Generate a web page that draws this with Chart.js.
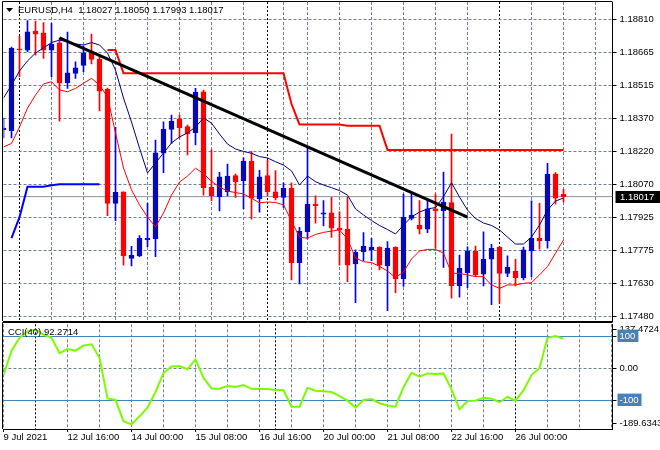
<!DOCTYPE html>
<html><head><meta charset="utf-8">
<script src="https://cdn.jsdelivr.net/npm/chart.js@4.4.1/dist/chart.umd.min.js"></script>
<style>
html,body{margin:0;padding:0;background:#fff;}
#wrap{position:relative;width:660px;height:450px;overflow:hidden;background:#fff;}
canvas{position:absolute;left:0;}
#c1{top:0;width:660px;height:322px;}
#c2{top:322px;width:660px;height:128px;}
</style></head><body>
<div id="wrap"><canvas id="c1" width="660" height="322"></canvas><canvas id="c2" width="660" height="128"></canvas></div>
<script>
// ---------------- DATA ----------------
const symbolLabel = 'EURUSD,H4';
const titleValues = ['1.18027', '1.18050', '1.17993', '1.18017'];
const cciLabel = 'CCI(40) 92.2714';

const open = [1.18315,1.18312,1.18678,1.18672,1.18757,1.18750,1.18672,1.18705,1.18526,1.18568,
1.18604,1.18660,1.18631,1.18497,1.17987,1.18038,1.17741,1.17752,1.17825,1.17828,
1.18211,1.18318,1.18365,1.18330,1.18303,1.18486,1.18060,1.18017,1.18039,1.18111,
1.18088,1.18176,1.18008,1.18111,1.18038,1.18014,1.18054,1.17722,1.17860,1.17984,
1.17938,1.17945,1.17876,1.17872,1.17716,1.17771,1.17779,1.17791,1.17707,1.17791,
1.17649,1.17920,1.17890,1.17872,1.17962,1.17954,1.17990,1.17619,1.17677,1.17774,
1.17670,1.17737,1.17791,1.17674,1.17683,1.17655,1.17775,1.17831,1.17820,1.18118,
1.18027];
const high = [1.18368,1.18686,1.18735,1.18804,1.18802,1.18795,1.18792,1.18725,1.18753,1.18620,
1.18690,1.18744,1.18646,1.18503,1.18327,1.18039,1.17795,1.17843,1.17987,1.18270,
1.18352,1.18382,1.18382,1.18337,1.18501,1.18494,1.18226,1.18126,1.18163,1.18118,
1.18191,1.18218,1.18135,1.18181,1.18133,1.18079,1.18079,1.17880,1.18240,1.18021,
1.17999,1.18014,1.17950,1.18014,1.17779,1.17856,1.17831,1.17793,1.17816,1.17793,
1.18028,1.18035,1.17999,1.17999,1.18029,1.18127,1.18297,1.17756,1.17793,1.17796,
1.17860,1.17804,1.17792,1.17752,1.17737,1.17791,1.17998,1.17987,1.18166,1.18124,
1.18050];
const low = [1.18279,1.18279,1.18553,1.18665,1.18650,1.18635,1.18553,1.18355,1.18501,1.18546,
1.18576,1.18610,1.18400,1.17932,1.17910,1.17711,1.17707,1.17749,1.17793,1.17749,
1.18124,1.18255,1.18278,1.18203,1.18248,1.18024,1.17999,1.17953,1.18020,1.18014,
1.17963,1.17916,1.17947,1.18020,1.18002,1.17969,1.17644,1.17627,1.17828,1.17898,
1.17886,1.17835,1.17711,1.17637,1.17543,1.17731,1.17731,1.17689,1.17507,1.17588,
1.17615,1.17913,1.17850,1.17856,1.17787,1.17700,1.17563,1.17567,1.17610,1.17659,
1.17618,1.17534,1.17540,1.17659,1.17618,1.17644,1.17659,1.17782,1.17786,1.17983,
1.17993];
const close = [1.18324,1.18680,1.18673,1.18754,1.18744,1.18672,1.18698,1.18524,1.18571,1.18593,
1.18660,1.18631,1.18489,1.17987,1.18036,1.17752,1.17755,1.17831,1.17832,1.18213,
1.18319,1.18355,1.18325,1.18297,1.18485,1.18057,1.18021,1.18105,1.18109,1.18084,
1.18176,1.18010,1.18105,1.18039,1.18012,1.18054,1.17722,1.17863,1.17984,1.17977,
1.17945,1.17876,1.17868,1.17711,1.17768,1.17796,1.17791,1.17711,1.17787,1.17649,
1.17925,1.17935,1.17872,1.17962,1.17953,1.17993,1.17619,1.17697,1.17773,1.17667,
1.17738,1.17786,1.17674,1.17701,1.17655,1.17779,1.17831,1.17820,1.18118,1.18010,
1.18017];
const navyLine = [1.18458,1.18516,1.18579,1.18624,1.18659,1.18682,1.18706,1.18717,1.18710,1.18700,
1.18695,1.18706,1.18695,1.18659,1.18583,1.18458,1.18351,1.18234,1.18123,1.18167,
1.18212,1.18257,1.18284,1.18302,1.18328,1.18369,1.18346,1.18297,1.18252,1.18230,
1.18219,1.18211,1.18196,1.18190,1.18173,1.18158,1.18132,1.18069,1.18109,1.18084,
1.18069,1.18057,1.18044,1.18024,1.17962,1.17935,1.17910,1.17888,1.17870,1.17850,
1.17890,1.17926,1.17948,1.17962,1.17968,1.18017,1.18079,1.18015,1.17957,1.17919,
1.17899,1.17888,1.17868,1.17836,1.17805,1.17805,1.17836,1.17890,1.17957,1.17997,
1.18011];
const redLine = [1.18239,1.18255,1.18328,1.18413,1.18471,1.18521,1.18531,1.18494,1.18486,1.18501,
1.18524,1.18546,1.18516,1.18463,1.18302,1.18145,1.18047,1.17980,1.17926,1.17881,
1.17944,1.18024,1.18082,1.18109,1.18144,1.18120,1.18085,1.18060,1.18042,1.18035,
1.18029,1.18010,1.17989,1.17993,1.17991,1.17980,1.17908,1.17836,1.17831,1.17848,
1.17857,1.17863,1.17868,1.17828,1.17743,1.17726,1.17722,1.17705,1.17684,1.17655,
1.17680,1.17738,1.17774,1.17781,1.17781,1.17764,1.17674,1.17674,1.17667,1.17659,
1.17659,1.17622,1.17607,1.17622,1.17622,1.17629,1.17632,1.17667,1.17704,1.17764,
1.17823];
const resistance = [null,null,null,null,null,null,null,null,null,null,
null,null,null,1.18673,1.18673,1.18569,1.18569,1.18569,1.18569,1.18569,
1.18569,1.18569,1.18569,1.18569,1.18569,1.18569,1.18569,1.18569,1.18569,1.18569,
1.18569,1.18569,1.18569,1.18569,1.18569,1.18569,1.18431,1.18340,1.18340,1.18340,
1.18340,1.18340,1.18340,1.18334,1.18334,1.18334,1.18334,1.18334,1.18226,1.18226,
1.18226,1.18226,1.18226,1.18226,1.18226,1.18226,1.18226,1.18226,1.18226,1.18226,
1.18226,1.18226,1.18226,1.18226,1.18226,1.18226,1.18226,1.18226,1.18226,1.18226,
1.18226];
const support = [null,1.17831,1.17925,1.18061,1.18061,1.18061,1.18068,1.18072,1.18072,1.18072,
1.18072,1.18072,1.18072];
const trendBars = [7, 58];
const trendPrices = [1.18727, 1.17925];
const currentPrice = 1.18017;
const currentPriceLabel = '1.18017';

const cci = [-21,55,95,115,120,105,95,47,60,55,
71,75,33,-94,-99,-165,-175,-150,-123,-74,
-15,6,7,-3,28,-30,-63,-64,-55,-58,
-52,-64,-65,-65,-68,-68,-120,-120,-61,-70,
-72,-74,-87,-101,-123,-99,-96,-109,-116,-120,
-59,-14,-26,-16,-18,-16,-66,-128,-103,-101,
-92,-95,-106,-89,-101,-69,-21,1,95,101,
92.27];
const cciLevels = [100, -100];
const cciMax = 137.4724, cciMin = -189.6343;
const cciTickLabels = ['137.4724', '100', '0.00', '-100', '-189.6343'];

const priceTickLabels = ['1.17480','1.17630','1.17775','1.17925','1.18070','1.18220','1.18370','1.18515','1.18665','1.18810'];
const timeLabelBars = [0, 8, 16, 24, 32, 40, 48, 56, 64];
const timeLabels = ['9 Jul 2021','12 Jul 16:00','14 Jul 00:00','15 Jul 08:00','16 Jul 16:00','20 Jul 00:00','21 Jul 08:00','22 Jul 16:00','26 Jul 00:00'];
const weekStartBars = [4, 34, 64];

// ---------------- LAYOUT / STYLE ----------------
const FONT_FAMILY = "'Liberation Sans', Arial, sans-serif";
const FS = 9.5;
const GRID = '#708090';
const AXIS_W = 47.5;
const X_MIN = 0, X_MAX = 76.125;          // visible bar range
const Y_MIN = 1.174608, Y_MAX = 1.188874; // visible price range
const BULL_FILL = '#0a0aa6', BULL_EDGE = '#0000ff', BEAR = '#ff0000';

Chart.defaults.font.family = FONT_FAMILY;
Chart.defaults.font.size = FS;
Chart.defaults.color = '#000';

const gridBars = [];
for (let b = 0; b <= 76; b += 4) gridBars.push(b);
weekStartBars.forEach(b => { if (!gridBars.includes(b)) gridBars.push(b); });
gridBars.sort((a, b) => a - b);

const isWeek = ctx => ctx.tick && weekStartBars.includes(ctx.tick.value);
const series = arr => arr.map((v, i) => ({x: i, y: v}));
const idx = open.map((_, i) => i);
const bull = i => close[i] >= open[i];
const noPad = s => { s.paddingTop = 0; s.paddingBottom = 0; s.paddingLeft = 0; s.paddingRight = 0; };

function xScale(showLabels) {
  return {
    type: 'linear', min: X_MIN, max: X_MAX, offset: false, bounds: 'data',
    afterBuildTicks: s => { s.ticks = gridBars.map(v => ({value: v})); },
    afterFit: s => { s.height = showLabels ? 21 : 0; noPad(s); },
    ticks: showLabels ? {
      display: true, autoSkip: false, maxRotation: 0, minRotation: 0, align: 'start', padding: 0,
      font: {size: FS, family: FONT_FAMILY}, color: '#000',
      callback: v => { const k = timeLabelBars.indexOf(v); return k >= 0 ? timeLabels[k] : ''; }
    } : {display: false},
    grid: {
      color: ctx => isWeek(ctx) ? '#000' : GRID, lineWidth: 1,
      drawTicks: showLabels, tickLength: 3,
      tickColor: ctx => (ctx.tick && timeLabelBars.includes(ctx.tick.value)) ? '#000' : 'rgba(0,0,0,0)'
    },
    border: { display: true, color: '#000', width: 1, dash: ctx => isWeek(ctx) ? [2, 2] : [3, 2] }
  };
}

// ---------------- MAIN PRICE CHART ----------------
const mainDecor = {
  id: 'mainDecor',
  afterDraw(chart) {
    const {ctx, chartArea: a} = chart;
    const y = chart.scales.y;
    ctx.save();
    ctx.strokeStyle = '#000'; ctx.lineWidth = 1;
    ctx.beginPath();
    ctx.moveTo(2.5, 1.5); ctx.lineTo(a.right, 1.5);
    ctx.moveTo(2.5, 1.5); ctx.lineTo(2.5, a.bottom);
    ctx.stroke();
    // title marker
    ctx.fillStyle = '#000';
    ctx.beginPath(); ctx.moveTo(6, 8); ctx.lineTo(13, 8); ctx.lineTo(9.5, 12); ctx.closePath(); ctx.fill();
    ctx.font = FS + 'px ' + FONT_FAMILY;
    ctx.textBaseline = 'middle'; ctx.textAlign = 'left';
    ctx.fillText(symbolLabel + '  ' + titleValues.join(' '), 18, 10.5);
    // current price box
    const py = y.getPixelForValue(currentPrice);
    ctx.fillStyle = '#000';
    ctx.fillRect(a.right + 3, Math.round(py) - 6, 660 - a.right - 3, 12);
    ctx.fillStyle = '#fff';
    ctx.fillText(currentPriceLabel, a.right + 7.5, Math.round(py) + 0.5);
    ctx.restore();
  }
};

new Chart(document.getElementById('c1'), {
  type: 'bar',
  data: {
    datasets: [
      {type: 'line', data: trendBars.map((b, k) => ({x: b, y: trendPrices[k]})), borderColor: '#000', borderWidth: 3, pointRadius: 0, order: 0},
      {type: 'line', data: series(resistance), borderColor: '#ff0000', borderWidth: 2, pointRadius: 0, spanGaps: false, order: 1},
      {type: 'line', data: series(support), borderColor: '#0000ff', borderWidth: 2, pointRadius: 0, spanGaps: false, order: 2},
      {type: 'line', data: series(navyLine), borderColor: '#000080', borderWidth: 1, pointRadius: 0, order: 3},
      {type: 'line', data: series(redLine), borderColor: '#ff0000', borderWidth: 1, pointRadius: 0, order: 4},
      {type: 'bar', data: idx.map(i => ({x: i, y: [open[i], close[i]]})), barThickness: 5, grouped: false, minBarLength: 1,
        borderSkipped: false, borderWidth: 1,
        backgroundColor: c => bull(c.dataIndex) ? BULL_FILL : BEAR,
        borderColor: c => bull(c.dataIndex) ? BULL_EDGE : BEAR, order: 10},
      {type: 'bar', data: idx.map(i => ({x: i, y: [low[i], high[i]]})), barThickness: 1, grouped: false, borderWidth: 0,
        backgroundColor: c => bull(c.dataIndex) ? BULL_EDGE : BEAR, order: 11},
      {type: 'line', data: [{x: X_MIN, y: currentPrice}, {x: X_MAX, y: currentPrice}], borderColor: '#8a949e', borderWidth: 1, pointRadius: 0, order: 12}
    ]
  },
  options: {
    responsive: false, animation: false, devicePixelRatio: 1, events: [],
    layout: {padding: {left: 3.5, top: 2, right: 0, bottom: 1}, autoPadding: false},
    plugins: {legend: {display: false}, tooltip: {enabled: false}, title: {display: false}},
    scales: {
      x: xScale(false),
      y: {
        type: 'linear', position: 'right', min: Y_MIN, max: Y_MAX, bounds: 'data', beginAtZero: false,
        afterFit: s => { s.width = AXIS_W; noPad(s); },
        afterBuildTicks: s => {
          const lo = parseFloat(priceTickLabels[0]), hi = parseFloat(priceTickLabels[priceTickLabels.length - 1]);
          const n = priceTickLabels.length;
          s.ticks = priceTickLabels.map((_, k) => ({value: lo + k * (hi - lo) / (n - 1)}));
        },
        ticks: {autoSkip: false, padding: 3, color: '#000', font: {size: FS, family: FONT_FAMILY}, callback: (v, i) => priceTickLabels[i]},
        grid: {color: GRID, lineWidth: 1, drawTicks: true, tickLength: 4, tickColor: '#000'},
        border: {display: true, color: '#000', width: 1, dash: [3, 2]}
      }
    }
  },
  plugins: [mainDecor]
});

// ---------------- CCI CHART ----------------
const cciDecor = {
  id: 'cciDecor',
  afterDraw(chart) {
    const {ctx, chartArea: a} = chart;
    ctx.save();
    ctx.strokeStyle = '#000'; ctx.lineWidth = 1;
    ctx.beginPath();
    ctx.moveTo(2.5, 0.5); ctx.lineTo(a.right, 0.5);
    ctx.moveTo(2.5, 0.5); ctx.lineTo(2.5, a.bottom);
    ctx.stroke();
    ctx.fillStyle = '#000';
    ctx.font = FS + 'px ' + FONT_FAMILY;
    ctx.textBaseline = 'middle'; ctx.textAlign = 'left';
    ctx.fillText(cciLabel, 8, 10);
    ctx.restore();
  }
};
const isLevelIdx = i => i === 1 || i === 3;

new Chart(document.getElementById('c2'), {
  type: 'line',
  data: {
    datasets: [
      {data: series(cci), borderColor: '#7cfc00', borderWidth: 2, pointRadius: 0, order: 0}
    ]
  },
  options: {
    responsive: false, animation: false, devicePixelRatio: 1, events: [],
    layout: {padding: {left: 3.5, top: 2.3, right: 0, bottom: 0}, autoPadding: false},
    plugins: {legend: {display: false}, tooltip: {enabled: false}},
    scales: {
      x: xScale(true),
      y: {
        type: 'linear', position: 'right', min: cciMin, max: cciMax, bounds: 'data',
        afterFit: s => { s.width = AXIS_W; noPad(s); },
        afterBuildTicks: s => {
          const span = s.max - s.min;
          s.ticks = [{value: s.max - span * 0.048}, {value: cciLevels[0]}, {value: 0}, {value: cciLevels[1]}, {value: s.min + span * 0.054}];
        },
        ticks: {
          autoSkip: false, padding: 3, font: {size: FS, family: FONT_FAMILY},
          color: c => isLevelIdx(c.index) ? '#fff' : '#000',
          showLabelBackdrop: c => isLevelIdx(c.index),
          backdropColor: '#4682b4',
          backdropPadding: {top: 1, bottom: 0, left: 2, right: 3},
          callback: (v, i) => cciTickLabels[i]
        },
        grid: {
          lineWidth: 1,
          color: c => isLevelIdx(c.index) ? '#4682b4' : (c.index === 2 ? GRID : 'rgba(0,0,0,0)'),
          drawTicks: true, tickLength: 4, tickColor: '#000'
        },
        border: {display: true, color: '#000', width: 1, dash: c => (c.index === 2 ? [3, 2] : [])}
      }
    }
  },
  plugins: [cciDecor]
});
</script>
</body></html>
